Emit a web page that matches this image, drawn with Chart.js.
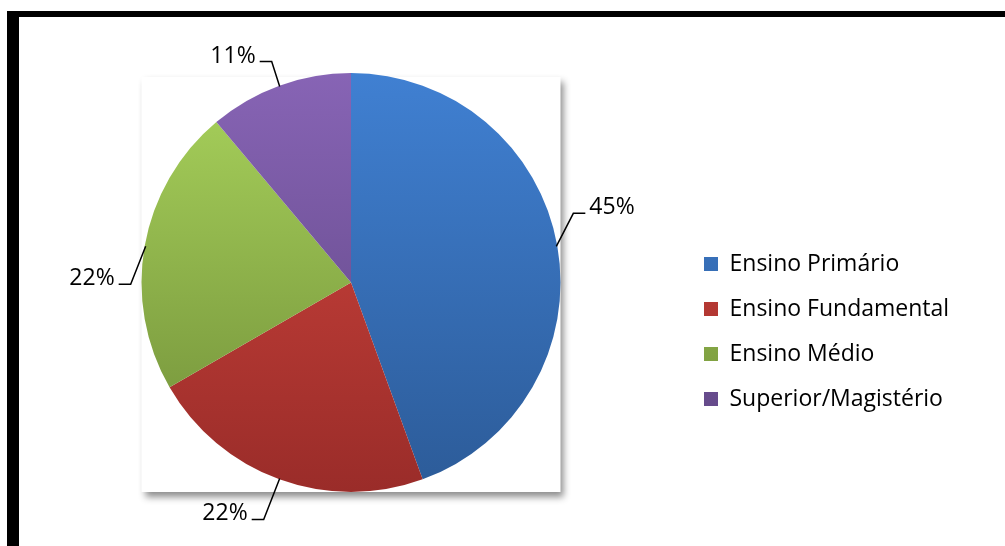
<!DOCTYPE html>
<html>
<head>
<meta charset="utf-8">
<script src="https://cdn.jsdelivr.net/npm/chart.js@4.4.0/dist/chart.umd.min.js"></script>
<style>
html, body { margin: 0; padding: 0; background: #fff; }
#wrap { position: relative; width: 1005px; height: 546px; overflow: hidden; }
#frame { position: absolute; left: 7px; top: 11px; right: -20px; bottom: -20px;
  border-top: 6px solid #000; border-left: 12px solid #000; pointer-events: none; }
canvas { position: absolute; left: 0; top: 0; }
</style>
</head>
<body>
<div id="wrap">
  <canvas id="escolaridade" width="1005" height="546"></canvas>
  <div id="frame"></div>
</div>
<script>
// data (slice sizes, labels as printed)
var categories = ["Ensino Primário", "Ensino Fundamental", "Ensino Médio", "Superior/Magistério"]
var sliceValues = [44.4, 22.2, 22.2, 11.1]
var percentLabels = ["45%", "22%", "22%", "11%"]

// styling
var topColors = ["#4080d2", "#d4473f", "#a9d35c", "#8764b5"]
var bottomColors = ["#2c5b98", "#9a2c29", "#6f8c37", "#5d4480"]
var elbowOffsets = [[17, -33], [-16, 41], [-15, 38], [-8, -25]]
var fontFamily = '"Open Sans", "Noto Sans", sans-serif'
var fontSize = 23
var legendPad = 22
var legendShift = 49
var legendBoxX = 704
var pieCenterX = 351

// work out the legend width so the pie and legend land in the right spot
var measure = document.createElement("canvas").getContext("2d")
measure.font = fontSize + "px " + fontFamily
var maxText = 0
for (var i = 0; i < categories.length; i++) {
	maxText = Math.max(maxText, measure.measureText(categories[i]).width)
}
var chartRight = legendBoxX - legendPad
var padLeft = pieCenterX * 2 - chartRight
var legendWidth = legendPad + 14 + fontSize / 2 + maxText + 10
var padRight = 1005 - chartRight - legendWidth

function sliceFill(c) {
	var i = c.dataIndex
	var area = c.chart.chartArea
	if (!area) return topColors[i]
	var cy = (area.top + area.bottom) / 2
	var r = Math.min(area.right - area.left, area.bottom - area.top) / 2
	var g = c.chart.ctx.createLinearGradient(0, cy - r, 0, cy + r)
	g.addColorStop(0, topColors[i])
	g.addColorStop(1, bottomColors[i])
	return g
}

var piePlot = {
	id: "piePlot",
	afterLayout: function(chart) {
		chart.legend.top += legendShift
		chart.legend.bottom += legendShift
	},
	beforeDatasetsDraw: function(chart) {
		var arc = chart.getDatasetMeta(0).data[0]
		if (!arc) return
		var ctx = chart.ctx
		var r = arc.outerRadius
		ctx.save()
		ctx.shadowColor = "rgba(0,0,0,0.45)"
		ctx.shadowBlur = 7
		ctx.shadowOffsetX = 3
		ctx.shadowOffsetY = 5
		ctx.fillStyle = "#fff"
		ctx.fillRect(arc.x - r, arc.y - r + 4, r * 2, r * 2 - 4)
		ctx.restore()
	},
	afterDatasetsDraw: function(chart) {
		var ctx = chart.ctx
		var arcs = chart.getDatasetMeta(0).data
		ctx.save()
		ctx.strokeStyle = "#000"
		ctx.lineWidth = 1.5
		ctx.fillStyle = "#000"
		ctx.font = fontSize + "px " + fontFamily
		ctx.textBaseline = "alphabetic"
		arcs.forEach(function(arc, i) {
			var mid = (arc.startAngle + arc.endAngle) / 2
			var ex = arc.x + Math.cos(mid) * (arc.outerRadius - 1)
			var ey = arc.y + Math.sin(mid) * (arc.outerRadius - 1)
			var bx = ex + elbowOffsets[i][0]
			var by = ey + elbowOffsets[i][1]
			var dir = elbowOffsets[i][0] >= 0 ? 1 : -1
			var tx = bx + dir * 12
			ctx.beginPath()
			ctx.moveTo(ex, ey)
			ctx.lineTo(bx, by)
			ctx.lineTo(tx, by)
			ctx.stroke()
			ctx.textAlign = dir > 0 ? "left" : "right"
			ctx.fillText(percentLabels[i], tx + dir * 4, by + 1)
		})
		ctx.restore()
	}
}

var chart = new Chart(document.getElementById("escolaridade"), {
	type: "pie",
	data: {
		labels: categories,
		datasets: [{
			data: sliceValues,
			backgroundColor: sliceFill,
			borderWidth: 0
		}]
	},
	options: {
		responsive: false,
		animation: false,
		layout: {
			padding: { left: padLeft, top: 73, bottom: 54, right: padRight }
		},
		plugins: {
			tooltip: { enabled: false },
			legend: {
				position: "right",
				align: "center",
				labels: {
					boxWidth: 14,
					boxHeight: 14,
					padding: legendPad,
					color: "#000",
					font: { family: fontFamily, size: fontSize }
				}
			}
		}
	},
	plugins: [piePlot]
})
</script>
</body>
</html>
